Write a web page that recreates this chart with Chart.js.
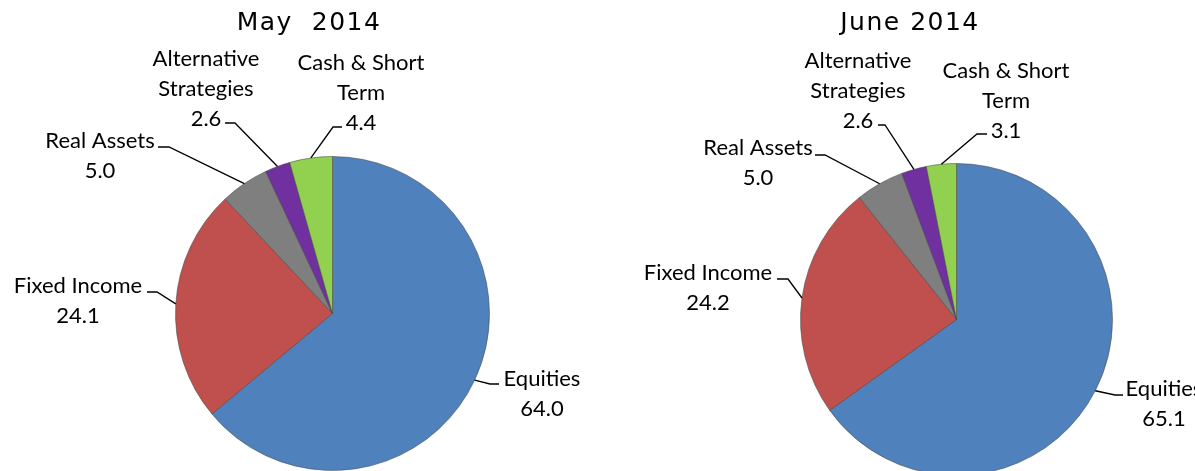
<!DOCTYPE html>
<html>
<head>
<meta charset="utf-8">
<script src="https://cdn.jsdelivr.net/npm/chart.js@4.4.1/dist/chart.umd.min.js"></script>
<style>
  html, body { margin: 0; padding: 0; background: #fff; overflow: hidden; }
  #wrap { position: relative; width: 1195px; height: 471px; overflow: hidden; }
  canvas { position: absolute; top: 0; }
  #mayChart { left: 0; }
  #juneChart { left: 598px; }
</style>
</head>
<body>
<div id="wrap">
  <canvas id="mayChart" width="598" height="471"></canvas>
  <canvas id="juneChart" width="597" height="480"></canvas>
</div>
<script>
// data
const categories = ["Equities", "Fixed Income", "Real Assets", "Alternative Strategies", "Cash & Short Term"];
const categoryLines = [["Equities"], ["Fixed Income"], ["Real Assets"], ["Alternative", "Strategies"], ["Cash & Short", "Term"]];
const mayValues = [64.0, 24.1, 5.0, 2.6, 4.4];
const juneValues = [65.1, 24.2, 5.0, 2.6, 3.1];
const titles = ["May  2014", "June 2014"];

const colors = ["#4F81BD", "#C0504D", "#7F7F7F", "#7030A0", "#92D050"];

// label layout: [text center x, first line cap center y, knee x, knee y, tail x]
const mayLabelPos = [
  [542, 378, 490, 384, 499],
  [78, 285, 157, 292, 147],
  [100, 140, 169, 147, 158],
  [206, 58, 235, 123, 225],
  [361, 62, 333, 127, 342]
];
const juneLabelPos = [
  [566, 388, 517, 395, 525],
  [110, 272, 190, 279, 179],
  [160, 147, 227, 155, 217],
  [260, 60, 287, 125, 280],
  [408, 70, 379, 134, 389]
];

const labelFont = "22px Lato";
const lineGap = 30;

const pieLabels = {
  id: "pieLabels",
  afterDraw(chart, args, opts) {
    const ctx = chart.ctx;
    const arcs = chart.getDatasetMeta(0).data;
    const values = chart.data.datasets[0].data;
    ctx.save();

    // title
    ctx.font = "25px 'DejaVu Sans'";
    ctx.letterSpacing = "1.5px";
    ctx.fillStyle = "#000";
    ctx.textAlign = "center";
    ctx.textBaseline = "alphabetic";
    ctx.fillText(opts.title, opts.titleX, 30);
    ctx.letterSpacing = "0px";

    ctx.font = labelFont;
    ctx.strokeStyle = "#000";
    ctx.lineWidth = 1.3;
    arcs.forEach((arc, i) => {
      const p = opts.pos[i];
      const mid = (arc.startAngle + arc.endAngle) / 2;
      const ex = arc.x + Math.cos(mid) * arc.outerRadius;
      const ey = arc.y + Math.sin(mid) * arc.outerRadius;
      ctx.beginPath();
      ctx.moveTo(ex, ey);
      ctx.lineTo(p[2], p[3]);
      ctx.lineTo(p[4], p[3]);
      ctx.stroke();

      const lines = categoryLines[i].concat([values[i].toFixed(1)]);
      lines.forEach((t, k) => {
        ctx.fillText(t, p[0], p[1] + 8 + k * lineGap);
      });
    });
    ctx.restore();
  }
};

function makePie(id, values, title, titleX, pos, padding) {
  return new Chart(document.getElementById(id), {
    type: "pie",
    data: {
      labels: categories,
      datasets: [{
        data: values,
        backgroundColor: colors,
        borderColor: "rgba(70,70,70,0.55)",
        borderWidth: 1
      }]
    },
    options: {
      responsive: false,
      animation: false,
      events: [],
      layout: { padding: padding },
      plugins: {
        legend: { display: false },
        tooltip: { enabled: false },
        pieLabels: { title: title, titleX: titleX, pos: pos }
      }
    },
    plugins: [pieLabels]
  });
}

makePie("mayChart", mayValues, titles[0], 309, mayLabelPos, { top: 156, left: 175, right: 108, bottom: 0 });
makePie("juneChart", juneValues, titles[1], 312, juneLabelPos, { top: 163, left: 202, right: 82, bottom: 4 });
</script>
</body>
</html>
